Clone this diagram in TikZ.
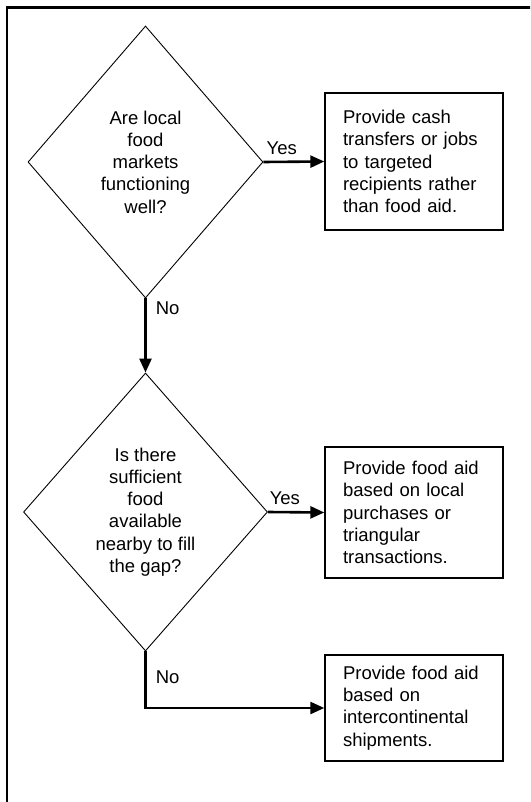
\documentclass[tikz,border=0pt]{standalone}
\usepackage{fontspec}
\setmainfont{Liberation Sans}
\usetikzlibrary{shapes.geometric,arrows.meta}

\tikzset{
  decision/.style={draw,diamond,line width=0.9pt,inner sep=0pt,align=center,
    font=\fontsize{18.5}{22.2}\selectfont},
  outcome/.style={draw,rectangle,line width=1.4pt,inner xsep=18pt,inner ysep=0pt,
    text width=142pt,align=left,minimum width=178pt,
    font=\fontsize{18.5}{22.2}\selectfont},
  flow/.style={line width=2.6pt,-{Triangle[length=14pt,width=12pt]}},
  answer/.style={font=\fontsize{18.5}{22.2}\selectfont}
}

\begin{document}
\begin{tikzpicture}[x=1pt,y=-1pt]
  \useasboundingbox (0,0) rectangle (530,802);
  \clip (0,0) rectangle (530,802);
  \draw[line width=2.6pt] (7,7.5) rectangle (545,820);

  \node[decision,minimum width=235pt,minimum height=272pt] (q1) at (145.5,162)
    {Are local\\food\\markets\\functioning\\well?};
  \node[decision,minimum width=244pt,minimum height=278pt] (q2) at (145.5,512)
    {Is there\\sufficient\\food\\available\\nearby to fill\\the gap?};

  \node[outcome,minimum height=137pt] (cash) at (414,161.5)
    {Provide cash\\transfers or jobs\\to targeted\\recipients rather\\than food aid.};
  \node[outcome,minimum height=131pt] (local) at (414,512.5)
    {Provide food aid\\based on local\\purchases or\\triangular\\transactions.};
  \node[outcome,minimum height=106pt] (ship) at (414,708)
    {Provide food aid\\based on\\intercontinental\\shipments.};

  \draw[flow] (q1.east) -- node[answer,pos=0.3,above,inner sep=6pt] {Yes} (cash.west);
  \draw[flow] (q1.south) -- node[answer,pos=0.13,right,inner sep=9pt] {No} (q2.north);
  \draw[flow] (q2.east) -- node[answer,pos=0.3,above,inner sep=6pt] {Yes} (local.west);
  \draw[flow] (q2.south) |- node[answer,pos=0.23,right,inner sep=9pt] {No} (ship.west);
\end{tikzpicture}
\end{document}
